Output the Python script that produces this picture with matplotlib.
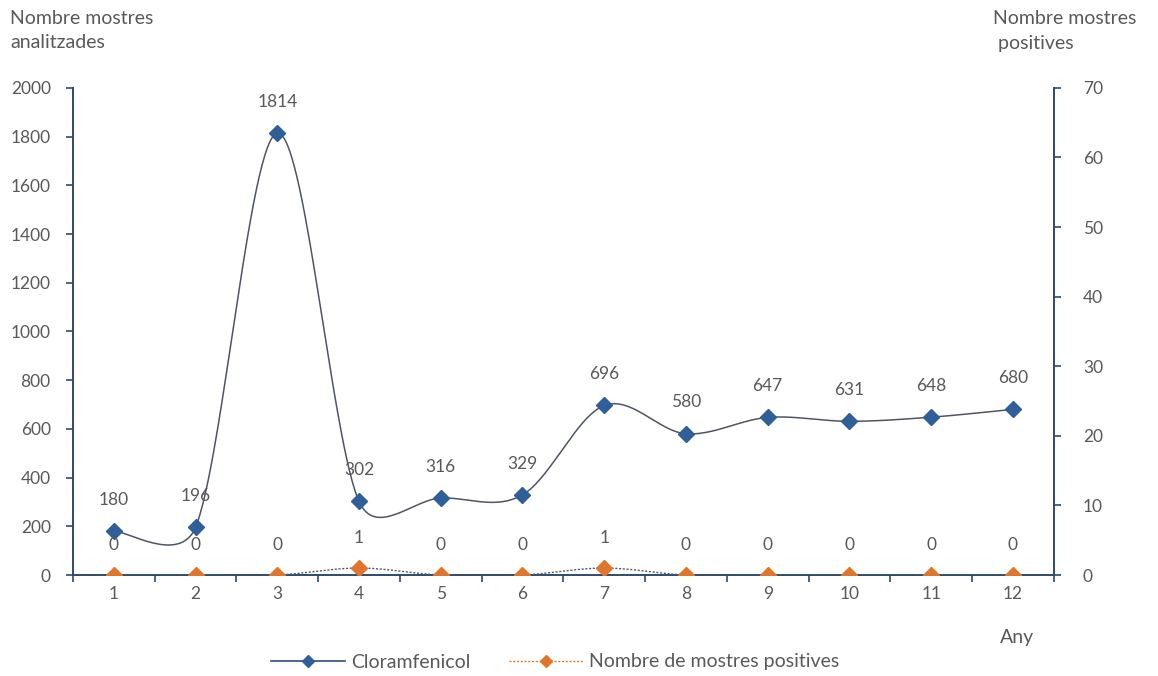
import numpy as np
import matplotlib
matplotlib.use("Agg")
import matplotlib.pyplot as plt
from matplotlib.lines import Line2D

plt.rcParams['font.family'] = ['Lato', 'DejaVu Sans']

years = list(range(1, 13))
cloramfenicol = [180, 196, 1814, 302, 316, 329, 696, 580, 647, 631, 648, 680]
positives = [0, 0, 0, 1, 0, 0, 1, 0, 0, 0, 0, 0]
left_ticks = list(range(0, 2001, 200))
right_ticks = list(range(0, 71, 10))

BLUE = '#2F5F98'
ORANGE = '#E0762B'
AXIS = '#2E4A6B'
TEXT = '#595959'
FS_TICK = 12.5
FS_TITLE = 14


def smooth(axis, x, y, n=60):
    """Spreadsheet-style Bezier smoothing computed in screen space.

    Control handles follow the neighbouring points (tension 1/6) but are
    capped at half the length of the segment they belong to.
    """
    pts = axis.transData.transform(np.column_stack([x, y]).astype(float))
    m = len(pts)
    t = np.linspace(0, 1, n)[:, None]
    out = []
    for i in range(m - 1):
        p0 = pts[max(i - 1, 0)]
        p1 = pts[i]
        p2 = pts[i + 1]
        p3 = pts[min(i + 2, m - 1)]
        d12 = np.linalg.norm(p2 - p1)
        d02 = np.linalg.norm(p2 - p0)
        d13 = np.linalg.norm(p3 - p1)
        f1 = 1 / 6 if d02 / 6 < d12 / 2 else (d12 / 2) / d02
        f2 = 1 / 6 if d13 / 6 < d12 / 2 else (d12 / 2) / d13
        c1 = p1 + (p2 - p0) * f1
        c2 = p2 - (p3 - p1) * f2
        b = (1 - t) ** 3 * p1 + 3 * (1 - t) ** 2 * t * c1 + 3 * (1 - t) * t ** 2 * c2 + t ** 3 * p2
        out.append(b)
    curve = axis.transData.inverted().transform(np.vstack(out))
    return curve[:, 0], curve[:, 1]


fig = plt.figure(figsize=(11.58, 6.76), dpi=100)
ax = fig.add_axes([0.063, 0.1494, 0.847, 0.7206])
ax2 = ax.twinx()

ax.set_xlim(0.5, 12.5)
ax.set_ylim(0, 2000)
ax2.set_xlim(0.5, 12.5)
ax2.set_ylim(0, 70)

# Primary series
sx, sy = smooth(ax, years, cloramfenicol)
ax.plot(sx, sy, color='#4F5562', lw=1.1, zorder=2)
ax.plot(years, cloramfenicol, ls='none', marker='D', ms=8, color=BLUE, zorder=3)
for xv, yv in zip(years, cloramfenicol):
    ax.annotate(str(yv), (xv, yv), xytext=(0, 22.5), textcoords='offset points',
                ha='center', va='center', fontsize=FS_TICK, color=TEXT)

# Secondary series
sx2, sy2 = smooth(ax2, years, positives)
ax2.plot(sx2, sy2, color='#4A5A73', lw=1.0, ls=(0, (1.5, 1.2)), zorder=2)
ax2.plot(years, positives, ls='none', marker='D', ms=8, color=ORANGE, zorder=3)
for xv, yv in zip(years, positives):
    ax2.annotate(str(yv), (xv, yv), xytext=(0, 21.5), textcoords='offset points',
                 ha='center', va='center', fontsize=FS_TICK, color=TEXT)

ax.set_yticks(left_ticks)
ax2.set_yticks(right_ticks)
ax.set_xticks(years)
ax.set_xticks(np.arange(0.5, 12.6, 1), minor=True)
ax.tick_params(axis='x', which='major', length=0, pad=8, labelsize=FS_TICK, labelcolor=TEXT)
ax.tick_params(axis='x', which='minor', length=5, width=1.2, color=AXIS, direction='out')
ax.tick_params(axis='y', length=5, width=1.2, color=AXIS, labelsize=FS_TICK, labelcolor=TEXT, pad=11)
ax2.tick_params(axis='y', length=5, width=1.2, color=AXIS, labelsize=FS_TICK, labelcolor=TEXT, pad=16)

for a in (ax, ax2):
    a.spines['top'].set_visible(False)
    for s in ('left', 'right', 'bottom'):
        a.spines[s].set_color(AXIS)
        a.spines[s].set_linewidth(1.4)
ax.spines['right'].set_visible(False)
ax2.spines['left'].set_visible(False)
ax2.spines['bottom'].set_visible(False)

fig.text(10 / 1158, 1 - 31 / 676, 'Nombre mostres\nanalitzades', ha='left', va='center',
         fontsize=FS_TITLE, color=TEXT, linespacing=1.5)
fig.text(993 / 1158, 1 - 31 / 676, 'Nombre mostres\n positives', ha='left', va='center',
         fontsize=FS_TITLE, color=TEXT, linespacing=1.5)
fig.text(1017 / 1158, 1 - 637 / 676, 'Any', ha='center', va='center', fontsize=FS_TITLE, color=TEXT)

handles = [
    Line2D([], [], color='#2F4F7A', lw=1.2, marker='D', ms=6, markerfacecolor=BLUE,
           markeredgecolor=BLUE),
    Line2D([], [], color=ORANGE, lw=1.0, ls=(0, (1.5, 1.2)), marker='D', ms=6,
           markerfacecolor=ORANGE, markeredgecolor=ORANGE),
]
fig.legend(handles, ['Cloramfenicol', 'Nombre de mostres positives'], loc='center',
           bbox_to_anchor=(555 / 1158, 1 - 662 / 676), ncol=2, frameon=False,
           fontsize=FS_TITLE, labelcolor=TEXT, handlelength=3.8, columnspacing=2.0,
           handletextpad=0.3)

fig.savefig('out.png', dpi=100, facecolor='white')
